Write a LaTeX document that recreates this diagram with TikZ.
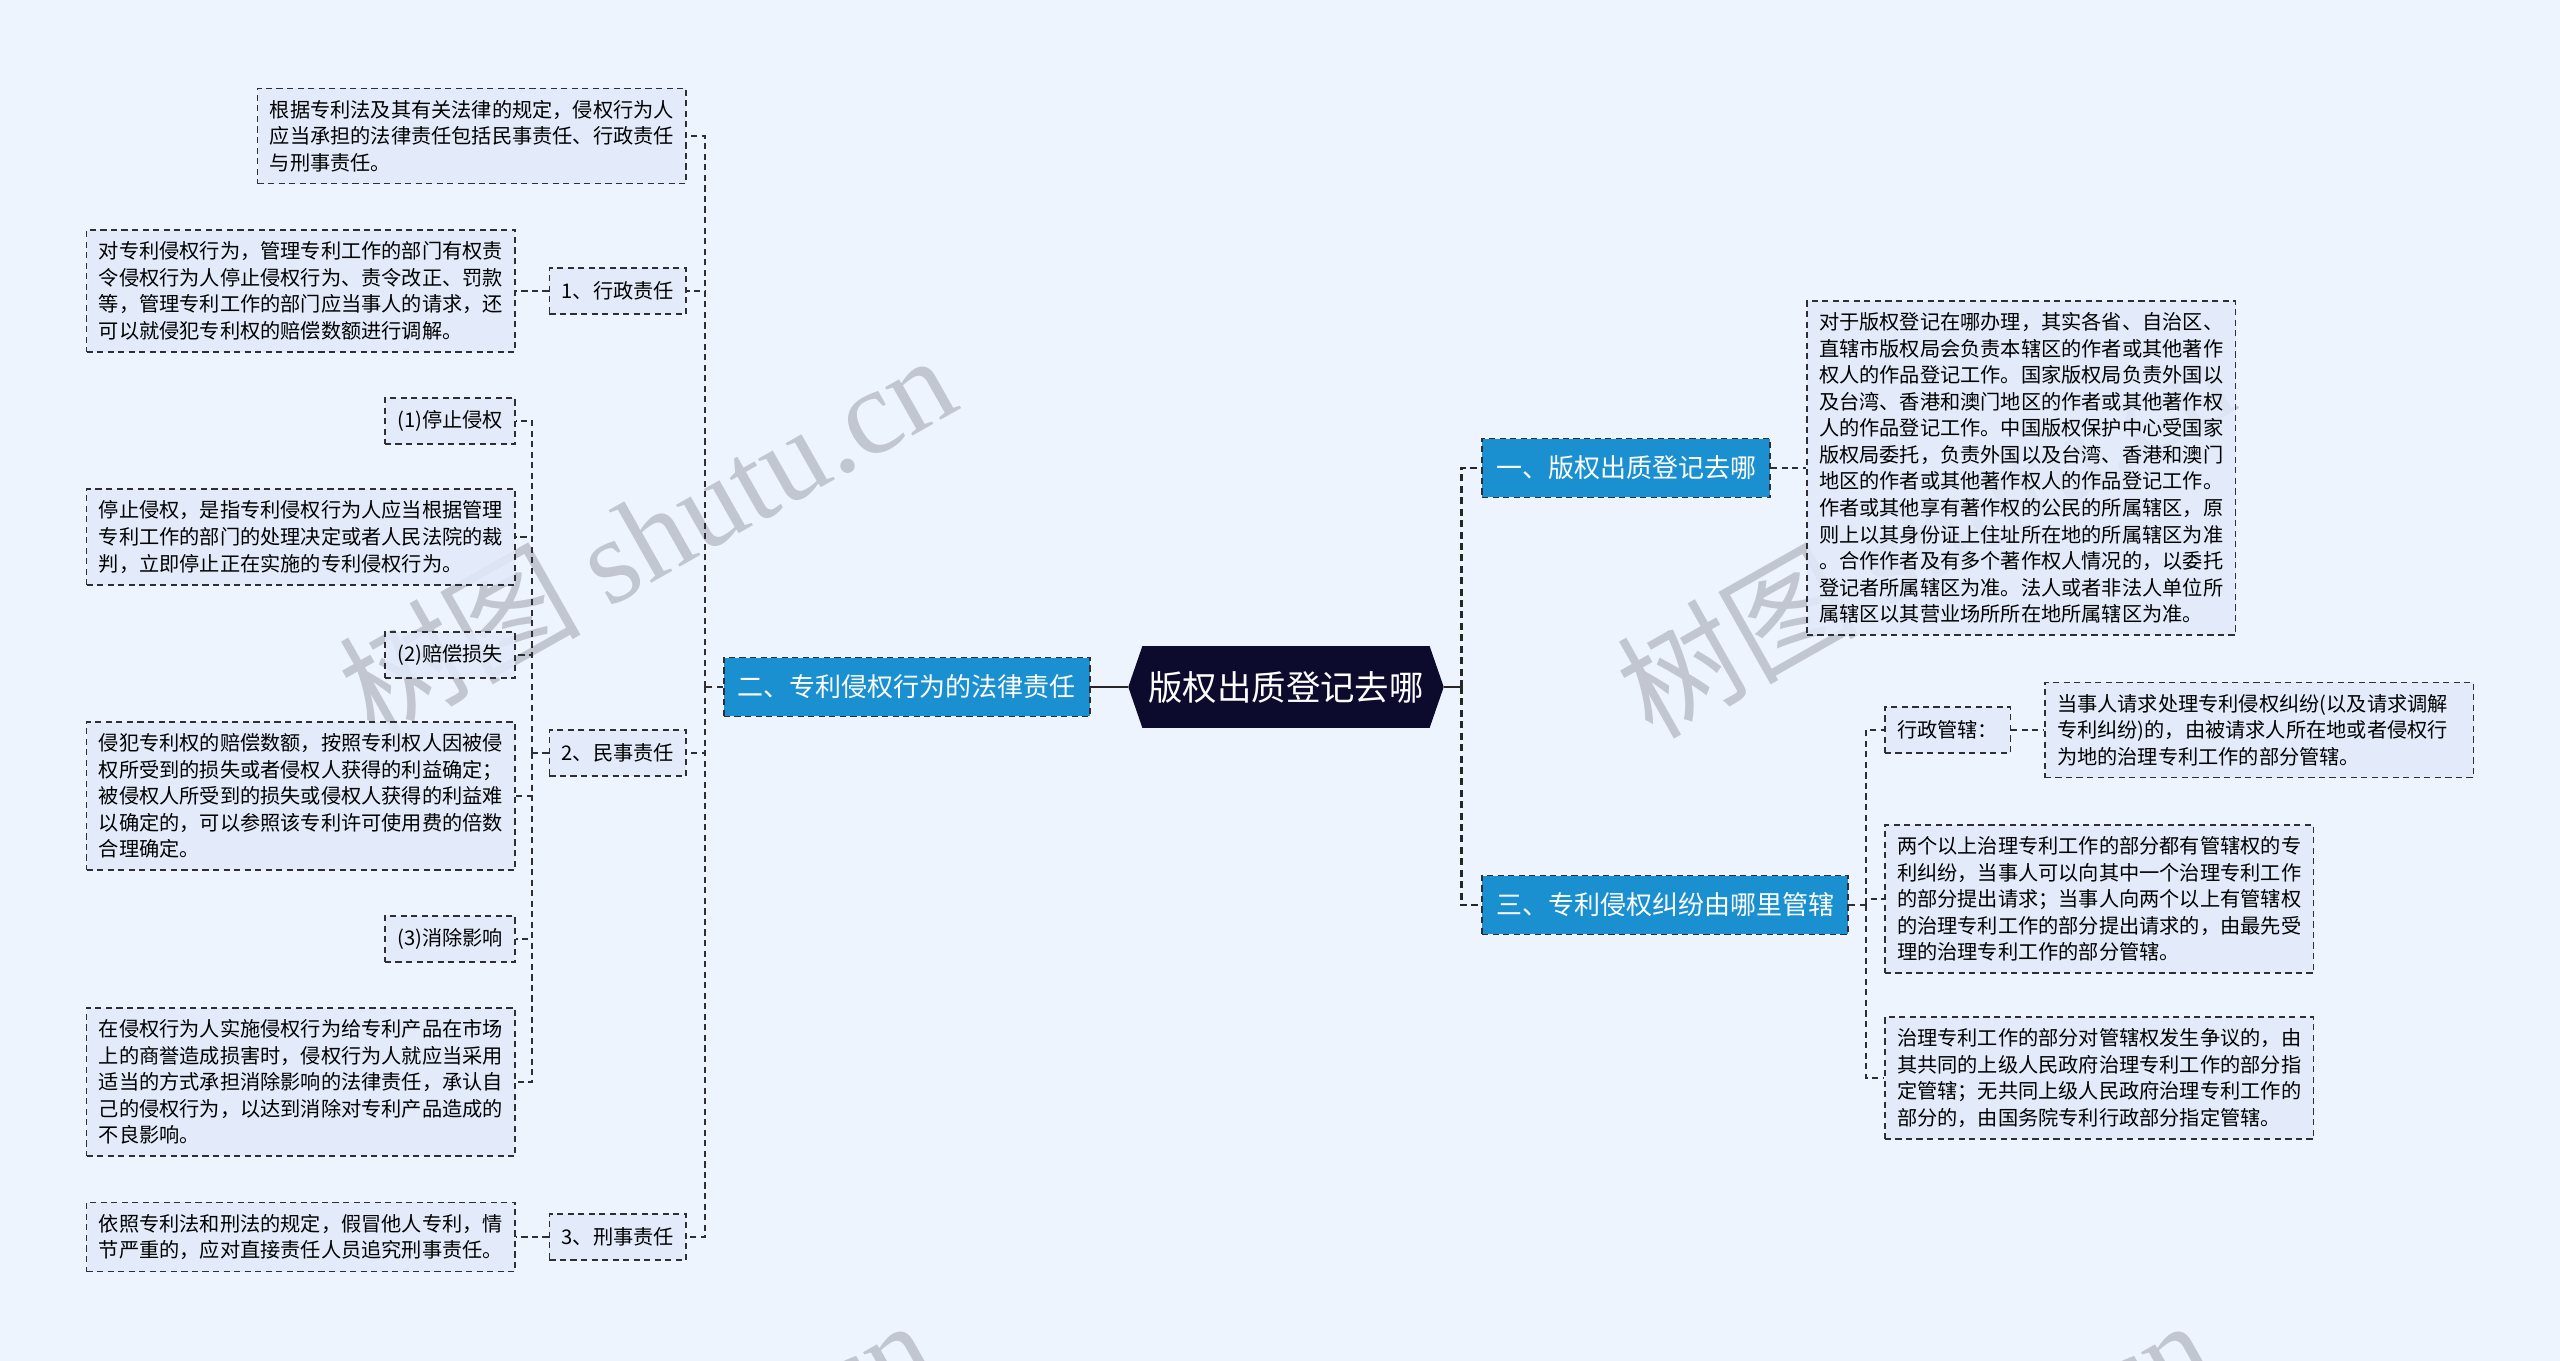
\documentclass[tikz,border=0pt]{standalone}
\usepackage{fontspec}
\setmainfont{Noto Sans CJK SC}
\newfontfamily\wmlatin{Liberation Serif}
\usetikzlibrary{shapes.symbols}
\definecolor{bgcol}{HTML}{EEF4FE}
\definecolor{boxfill}{HTML}{E2EAFA}
\definecolor{branchblue}{HTML}{1A90D0}
\definecolor{rootnavy}{HTML}{0C0A2D}
\definecolor{edgegray}{HTML}{2E2E33}
\definecolor{wmgray}{HTML}{C2C6D1}

\begin{document}
\begin{tikzpicture}[
    x=0.02cm, y=-0.02cm,
    font=\fontsize{11.5}{15.1}\selectfont,
    box/.style={draw=edgegray, dash pattern=on 3.5pt off 2.5pt, line width=0.9pt,
                fill=boxfill, fill opacity=0.85, text opacity=1,
                inner xsep=7pt, inner ysep=6.7pt},
    txtbox/.style={box, text width=230pt, align=left},
    tagbox/.style={box, minimum height=0.92cm, inner ysep=4pt},
    branch/.style={box, fill=branchblue, fill opacity=1, text=white, line width=1.1pt,
                   font=\fontsize{14.8}{17}\selectfont, minimum height=1.18cm, inner xsep=8pt},
    rootnode/.style={signal, signal to=west and east, signal pointer angle=142,
                     fill=rootnavy, text=white, font=\fontsize{19.6}{22}\selectfont,
                     minimum width=6.3cm, minimum height=1.64cm},
    link/.style={draw=edgegray, line width=0.9pt, dash pattern=on 3.5pt off 2.5pt},
    mainlink/.style={draw=black!85, line width=1.7pt, dash pattern=on 4pt off 2.5pt},
    watermark/.style={text=wmgray, rotate=29.5, font=\fontsize{69}{70}\selectfont}
]

\useasboundingbox (0,0) rectangle (2560,1361);
\clip (0,0) rectangle (2560,1361);
\fill[bgcol] (0,0) rectangle (2560,1361);

%% ---- watermarks ------------------------------------------------
\node[watermark] (wm1) at (646,534)  {树图 {\wmlatin shutu.cn}};
\node[watermark] (wm2) at (1924,534) {树图 {\wmlatin shutu.cn}};
\node[watermark] (wm3) at (624,1499) {树图 {\wmlatin shutu.cn}};
\node[watermark] (wm4) at (1902,1499) {树图 {\wmlatin shutu.cn}};

%% ---- centre and branches ---------------------------------------
\node[rootnode] (root) at (1286,687) {版权出质登记去哪};
\node[branch, anchor=east] (two)   at (1091,687) {二、专利侵权行为的法律责任};
\node[branch, anchor=west] (one)   at (1481,468) {一、版权出质登记去哪};
\node[branch, anchor=west] (three) at (1481,905) {三、专利侵权纠纷由哪里管辖};

%% ---- left side (二) ----------------------------------------------
\node[txtbox, anchor=east] (basis) at (687,136)
  {根据专利法及其有关法律的规定，侵权行为人\\应当承担的法律责任包括民事责任、行政责任\\与刑事责任。};
\node[tagbox, anchor=east] (admin) at (687,291)  {1、行政责任};
\node[tagbox, anchor=east] (civil) at (687,753)  {2、民事责任};
\node[tagbox, anchor=east] (crime) at (687,1237) {3、刑事责任};

\node[txtbox, anchor=east] (adminTxt) at (516,291)
  {对专利侵权行为，管理专利工作的部门有权责\\令侵权行为人停止侵权行为、责令改正、罚款\\等，管理专利工作的部门应当事人的请求，还\\可以就侵犯专利权的赔偿数额进行调解。};
\node[txtbox, anchor=east] (crimeTxt) at (516,1237)
  {依照专利法和刑法的规定，假冒他人专利，情\\节严重的，应对直接责任人员追究刑事责任。};

\node[tagbox, anchor=east] (stop) at (516,421) {(1)停止侵权};
\node[txtbox, anchor=east] (stopTxt) at (516,537)
  {停止侵权，是指专利侵权行为人应当根据管理\\专利工作的部门的处理决定或者人民法院的裁\\判，立即停止正在实施的专利侵权行为。};
\node[tagbox, anchor=east] (comp) at (516,655) {(2)赔偿损失};
\node[txtbox, anchor=east] (compTxt) at (516,796)
  {侵犯专利权的赔偿数额，按照专利权人因被侵\\权所受到的损失或者侵权人获得的利益确定；\\被侵权人所受到的损失或侵权人获得的利益难\\以确定的，可以参照该专利许可使用费的倍数\\合理确定。};
\node[tagbox, anchor=east] (clear) at (516,939) {(3)消除影响};
\node[txtbox, anchor=east] (clearTxt) at (516,1082)
  {在侵权行为人实施侵权行为给专利产品在市场\\上的商誉造成损害时，侵权行为人就应当采用\\适当的方式承担消除影响的法律责任，承认自\\己的侵权行为，以达到消除对专利产品造成的\\不良影响。};

%% ---- right side (一, 三) -----------------------------------------
\node[txtbox, anchor=west] (oneTxt) at (1806,468)
  {对于版权登记在哪办理，其实各省、自治区、\\直辖市版权局会负责本辖区的作者或其他著作\\权人的作品登记工作。国家版权局负责外国以\\及台湾、香港和澳门地区的作者或其他著作权\\人的作品登记工作。中国版权保护中心受国家\\版权局委托，负责外国以及台湾、香港和澳门\\地区的作者或其他著作权人的作品登记工作。\\作者或其他享有著作权的公民的所属辖区，原\\则上以其身份证上住址所在地的所属辖区为准\\。合作作者及有多个著作权人情况的，以委托\\登记者所属辖区为准。法人或者非法人单位所\\属辖区以其营业场所所在地所属辖区为准。};

\node[tagbox, anchor=west] (juris) at (1884,730) {行政管辖：};
\node[txtbox, anchor=west] (jurisTxt) at (2044,730)
  {当事人请求处理专利侵权纠纷(以及请求调解\\专利纠纷)的，由被请求人所在地或者侵权行\\为地的治理专利工作的部分管辖。};
\node[txtbox, anchor=west] (multi) at (1884,899)
  {两个以上治理专利工作的部分都有管辖权的专\\利纠纷，当事人可以向其中一个治理专利工作\\的部分提出请求；当事人向两个以上有管辖权\\的治理专利工作的部分提出请求的，由最先受\\理的治理专利工作的部分管辖。};
\node[txtbox, anchor=west] (dispute) at (1884,1078)
  {治理专利工作的部分对管辖权发生争议的，由\\其共同的上级人民政府治理专利工作的部分指\\定管辖；无共同上级人民政府治理专利工作的\\部分的，由国务院专利行政部分指定管辖。};

%% ---- connectors --------------------------------------------------
\draw[mainlink, solid] (root.west) -- (two.east);
\coordinate (spineR) at (1461,687);
\draw[mainlink, solid] (root.east) -- (spineR);
\draw[mainlink] (spineR) |- (one.west);
\draw[mainlink] (spineR) |- (three.west);

\coordinate (spineL) at (705,687);
\draw[link] (two.west) -- (spineL);
\foreach \n in {basis,admin,civil,crime}
  \draw[link] (spineL) |- (\n.east);
\draw[link] (admin.west) -- (adminTxt.east);
\draw[link] (crime.west) -- (crimeTxt.east);

\coordinate (spineC) at (532,753);
\draw[link] (civil.west) -- (spineC);
\foreach \n in {stop,stopTxt,comp,compTxt,clear,clearTxt}
  \draw[link] (spineC) |- (\n.east);

\draw[link] (one.east) -- (oneTxt.west);
\coordinate (spineT) at (1866,905);
\draw[link] (three.east) -- (spineT);
\foreach \n in {juris,multi,dispute}
  \draw[link] (spineT) |- (\n.west);
\draw[link] (juris.east) -- (jurisTxt.west);

\end{tikzpicture}
\end{document}
